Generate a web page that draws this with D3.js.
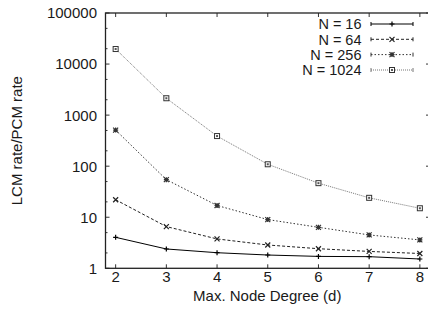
<!DOCTYPE html>
<html>
<head>
<meta charset="utf-8">
<script src="https://cdn.jsdelivr.net/npm/d3@7"></script>
<style>
  html, body { margin: 0; padding: 0; background: #fff; }
  svg { display: block; font-family: "Liberation Sans", Arial, sans-serif; }
</style>
</head>
<body>
<div id="chart"></div>
<script>
const DEGREES = [2, 3, 4, 5, 6, 7, 8]
const SERIES_NAMES = ["N = 16", "N = 64", "N = 256", "N = 1024"]
const N16 = [4.04, 2.39, 2.02, 1.82, 1.71, 1.69, 1.52]
const N64 = [22, 6.56, 3.76, 2.86, 2.42, 2.14, 1.95]
const N256 = [509, 54.5, 17, 9.0, 6.35, 4.5, 3.6]
const N1024 = [19700, 2140, 389, 109, 46.5, 24, 15]
const Y_TICKS = [1, 10, 100, 1000, 10000, 100000]

const width = 428
const height = 321
const plotLeft = 105.5, plotRight = 430, plotTop = 13, plotBottom = 268.3

const x = d3.scaleLinear().domain([1.8, 8.2]).range([plotLeft, plotRight])
const y = d3.scaleLog().domain([1, 100000]).range([plotBottom, plotTop])

const styles = [
  { color: "#000", dash: null, marker: "plus" },
  { color: "#222", dash: "3,2", marker: "cross" },
  { color: "#333", dash: "1.5,2", marker: "star" },
  { color: "#777", dash: "1,1", marker: "square" }
]
const seriesValues = [N16, N64, N256, N1024]

const svg = d3.select("#chart").append("svg")
  .attr("width", width)
  .attr("height", height)

// minor ticks at 2 and 5 per decade
const minorTicks = []
for (let k = 0; k < 5; k++) {
  for (const m of [2, 5]) minorTicks.push(m * Math.pow(10, k))
}

const tickColor = "#333"
// left and right ticks
for (const v of Y_TICKS) {
  svg.append("line").attr("x1", plotLeft).attr("x2", plotLeft + 4).attr("y1", y(v)).attr("y2", y(v)).attr("stroke", tickColor)
  svg.append("line").attr("x1", plotRight).attr("x2", plotRight - 4).attr("y1", y(v)).attr("y2", y(v)).attr("stroke", tickColor)
  svg.append("text")
    .attr("x", 97).attr("y", y(v)).attr("dy", "0.36em")
    .attr("text-anchor", "end").attr("font-size", 15).attr("fill", "#1a1a1a")
    .text(v)
}
for (const v of minorTicks) {
  svg.append("line").attr("x1", plotLeft).attr("x2", plotLeft + 2).attr("y1", y(v)).attr("y2", y(v)).attr("stroke", tickColor)
  svg.append("line").attr("x1", plotRight).attr("x2", plotRight - 2).attr("y1", y(v)).attr("y2", y(v)).attr("stroke", tickColor)
}
// bottom and top ticks
for (const d of DEGREES) {
  svg.append("line").attr("x1", x(d)).attr("x2", x(d)).attr("y1", plotBottom).attr("y2", plotBottom - 4).attr("stroke", tickColor)
  svg.append("line").attr("x1", x(d)).attr("x2", x(d)).attr("y1", plotTop).attr("y2", plotTop + 4).attr("stroke", tickColor)
  svg.append("text")
    .attr("x", x(d)).attr("y", 282)
    .attr("text-anchor", "middle").attr("font-size", 15).attr("fill", "#1a1a1a")
    .text(d)
}

// frame
svg.append("rect")
  .attr("x", plotLeft).attr("y", plotTop)
  .attr("width", plotRight - plotLeft).attr("height", plotBottom - plotTop)
  .attr("fill", "none").attr("stroke", "#222").attr("stroke-width", 1.3)

// axis labels
svg.append("text")
  .attr("x", (plotLeft + plotRight) / 2 - 0.5).attr("y", 301)
  .attr("text-anchor", "middle").attr("font-size", 15).attr("fill", "#1a1a1a")
  .text("Max. Node Degree (d)")
svg.append("text")
  .attr("transform", `translate(22,${(plotTop + plotBottom) / 2}) rotate(-90)`)
  .attr("text-anchor", "middle").attr("font-size", 15).attr("fill", "#1a1a1a")
  .text("LCM rate/PCM rate")

function drawMarker(g, kind, cx, cy, color) {
  const s = 2.5
  if (kind === "plus") {
    g.append("path").attr("d", `M${cx - s},${cy}H${cx + s}M${cx},${cy - s}V${cy + s}`)
      .attr("stroke", color).attr("stroke-width", 1.2)
  } else if (kind === "cross") {
    g.append("path").attr("d", `M${cx - s},${cy - s}L${cx + s},${cy + s}M${cx - s},${cy + s}L${cx + s},${cy - s}`)
      .attr("stroke", color).attr("stroke-width", 1.2)
  } else if (kind === "star") {
    g.append("path").attr("d", `M${cx - s},${cy - s}L${cx + s},${cy + s}M${cx - s},${cy + s}L${cx + s},${cy - s}M${cx - s},${cy}H${cx + s}M${cx},${cy - s}V${cy + s}`)
      .attr("stroke", color).attr("stroke-width", 1.2)
  } else {
    g.append("rect").attr("x", cx - s).attr("y", cy - s).attr("width", 2 * s).attr("height", 2 * s)
      .attr("fill", "#fff").attr("stroke", "#333").attr("stroke-width", 1)
    g.append("rect").attr("x", cx - 1).attr("y", cy - 1).attr("width", 2).attr("height", 2)
      .attr("fill", "#555")
  }
}

const line = d3.line().x((d, i) => x(DEGREES[i])).y(d => y(d))

seriesValues.forEach((vals, si) => {
  const st = styles[si]
  const g = svg.append("g")
  g.append("path")
    .datum(vals)
    .attr("d", line)
    .attr("fill", "none")
    .attr("stroke", st.color)
    .attr("stroke-width", 1)
    .attr("stroke-dasharray", st.dash)
  vals.forEach((v, i) => drawMarker(g, st.marker, x(DEGREES[i]), y(v), st.color))
})

// legend
const legendX0 = 371, legendX1 = 413, legendTextX = 361.5
const legendRows = [24, 39.3, 54.6, 70]
SERIES_NAMES.forEach((name, si) => {
  const st = styles[si]
  const ly = legendRows[si]
  svg.append("text")
    .attr("x", legendTextX).attr("y", ly).attr("dy", "0.36em")
    .attr("text-anchor", "end").attr("font-size", 14.5).attr("fill", "#1a1a1a")
    .text(name)
  svg.append("line")
    .attr("x1", legendX0).attr("x2", legendX1).attr("y1", ly).attr("y2", ly)
    .attr("stroke", st.color).attr("stroke-width", 1).attr("stroke-dasharray", st.dash)
  svg.append("path")
    .attr("d", `M${legendX0},${ly - 2}V${ly + 2}M${legendX1},${ly - 2}V${ly + 2}`)
    .attr("stroke", st.color).attr("stroke-width", 1)
  drawMarker(svg, st.marker, (legendX0 + legendX1) / 2, ly, st.color)
})
</script>
</body>
</html>
